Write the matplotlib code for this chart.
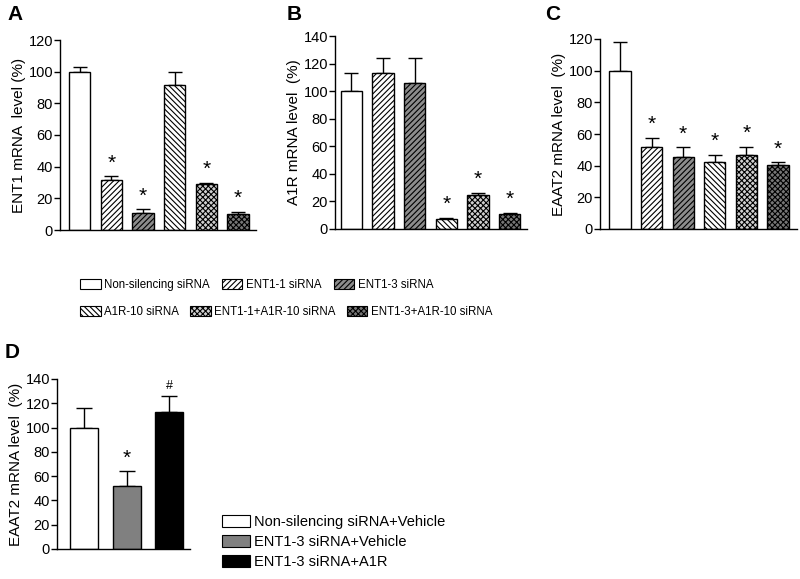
import matplotlib
matplotlib.use("Agg")
import matplotlib.pyplot as plt
from matplotlib.patches import Patch

plt.rcParams['font.family'] = ['Liberation Sans', 'DejaVu Sans']
plt.rcParams['hatch.linewidth'] = 0.8

# data
groups = ['Non-silencing siRNA', 'ENT1-1 siRNA', 'ENT1-3 siRNA',
          'A1R-10 siRNA', 'ENT1-1+A1R-10 siRNA', 'ENT1-3+A1R-10 siRNA']
ent1_mean = [100, 31.5, 11, 91.5, 29, 10]
ent1_err = [3, 2.5, 2, 8.5, 1, 1.5]
ent1_sig = [False, True, True, False, True, True]

a1r_mean = [100, 113.5, 106, 7, 25, 11]
a1r_err = [13, 10.5, 18, 1, 1, 0.5]
a1r_sig = [False, False, False, True, True, True]

eaat2_mean = [100, 52, 45.5, 42, 47, 40.5]
eaat2_err = [18, 5.5, 6, 5, 5, 1.5]
eaat2_sig = [False, True, True, True, True, True]

d_groups = ['Non-silencing siRNA+Vehicle', 'ENT1-3 siRNA+Vehicle', 'ENT1-3 siRNA+A1R']
d_mean = [100, 52, 113]
d_err = [16.5, 12.5, 13]
d_marks = ['', '*', '#']

# bar styles (fill, hatch)
styles = [('white', None), ('white', '//////'), ('#8c8c8c', '//////'),
          ('white', '\\\\\\\\\\\\'), ('#d0d0d0', 'xxxxxx'), ('#777777', 'xxxxxx')]
d_colors = ['white', '#808080', 'black']

fig = plt.figure(figsize=(8, 5.79), dpi=100)
W, H = 800, 579


def add_ax(l, r, t, b):
    return fig.add_axes([l / W, 1 - b / H, (r - l) / W, (b - t) / H])


def style_ax(ax, ymax, ystep, xlim, ylabel):
    ax.set_ylim(0, ymax)
    ax.set_xlim(*xlim)
    ax.set_yticks(range(0, ymax + 1, ystep))
    ax.set_xticks([])
    for s in ['top', 'right']:
        ax.spines[s].set_visible(False)
    for s in ['left', 'bottom']:
        ax.spines[s].set_linewidth(1.0)
    ax.tick_params(axis='y', direction='out', length=4, width=1, labelsize=10.5, pad=1)
    ax.set_ylabel(ylabel, fontsize=11, labelpad=2)


def draw_panel(ax, means, errs, sigs, ymax):
    x = list(range(len(means)))
    for i in x:
        fc, h = styles[i]
        ax.bar(i, means[i], width=0.67, color=fc, edgecolor='black',
               hatch=h, linewidth=1.0, zorder=2)
    ax.errorbar(x, means, yerr=[[0] * len(errs), errs], fmt='none',
                ecolor='black', elinewidth=1.0, capsize=5, capthick=1.0, zorder=1)
    for i in x:
        if sigs[i]:
            ax.text(i, means[i] + errs[i] + ymax * 0.02, '*', ha='center',
                    va='bottom', fontsize=15)


axA = add_ax(60, 256, 40, 230)
draw_panel(axA, ent1_mean, ent1_err, ent1_sig, 120)
style_ax(axA, 120, 20, (-0.62, 5.57), 'ENT1 mRNA  level (%)')

axB = add_ax(335, 527, 36, 229)
draw_panel(axB, a1r_mean, a1r_err, a1r_sig, 140)
style_ax(axB, 140, 20, (-0.52, 5.55), 'A1R mRNA level  (%)')

axC = add_ax(600, 797, 39, 229)
draw_panel(axC, eaat2_mean, eaat2_err, eaat2_sig, 120)
style_ax(axC, 120, 20, (-0.63, 5.6), 'EAAT2 mRNA level  (%)')

axD = add_ax(57, 190, 379, 549)
xd = list(range(len(d_mean)))
axD.bar(xd, d_mean, width=0.66, color=d_colors, edgecolor='black',
        linewidth=1.0, zorder=2)
axD.errorbar(xd, d_mean, yerr=[[0] * 3, d_err], fmt='none', ecolor='black',
             elinewidth=1.0, capsize=6, capthick=1.0, zorder=1)
for i in xd:
    if d_marks[i] == '*':
        axD.text(i, d_mean[i] + d_err[i] + 2, '*', ha='center', va='bottom', fontsize=15)
    elif d_marks[i] == '#':
        axD.text(i, d_mean[i] + d_err[i] + 3, '#', ha='center', va='bottom', fontsize=9)
style_ax(axD, 140, 20, (-0.635, 2.49), 'EAAT2 mRNA level  (%)')

# panel letters
for lbl, (px, py) in zip('ABCD', [(7, 15), (287, 15), (545, 15), (5, 352)]):
    fig.text(px / W, 1 - py / H, lbl, fontsize=15, fontweight='bold',
             va='center', ha='left')

# top legend: two rows of three (fig.legend keeps both)
handles = [Patch(facecolor=fc, edgecolor='black', hatch=h, linewidth=0.8)
           for fc, h in styles]
fig.legend(handles[:3], groups[:3], ncol=3, loc='center left',
           bbox_to_anchor=(70 / W, 1 - 285 / H), frameon=False,
           prop={'size': 8.3}, handlelength=1.75, handleheight=1.0,
           handletextpad=0.3, columnspacing=1.1)
fig.legend(handles[3:], groups[3:], ncol=3, loc='center left',
           bbox_to_anchor=(70 / W, 1 - 312 / H), frameon=False,
           prop={'size': 8.3}, handlelength=1.75, handleheight=1.0,
           handletextpad=0.3, columnspacing=1.0)

d_handles = [Patch(facecolor=c, edgecolor='black', linewidth=0.8) for c in d_colors]
fig.legend(d_handles, d_groups, loc='center left',
           bbox_to_anchor=(209 / W, 1 - 542 / H), frameon=False,
           prop={'size': 10.5}, handlelength=1.9, handleheight=0.9,
           handletextpad=0.3, labelspacing=0.4)

fig.savefig('out.png', dpi=100)
